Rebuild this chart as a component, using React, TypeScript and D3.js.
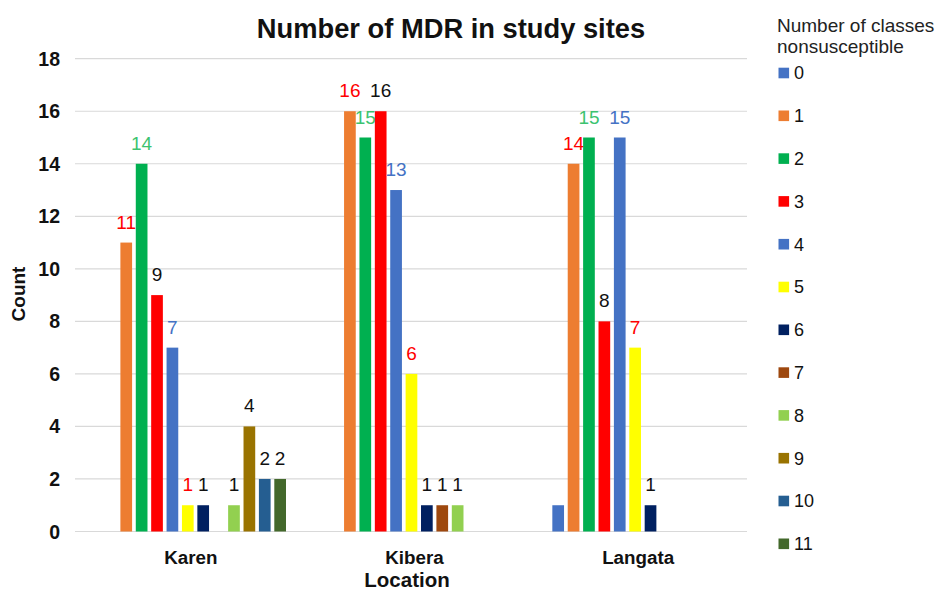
import React from "react";
import * as d3 from "d3";

const categories = ["Karen", "Kibera", "Langata"];
const seriesNames = ["0", "1", "2", "3", "4", "5", "6", "7", "8", "9", "10", "11"];
const karenValues = [null, 11, 14, 9, 7, 1, 1, null, 1, 4, 2, 2];
const kiberaValues = [null, 16, 15, 16, 13, 6, 1, 1, 1, null, null, null];
const langataValues = [1, 14, 15, 8, 15, 7, 1, null, null, null, null, null];
const seriesColors = [
  "#4472C4", "#ED7D31", "#00B050", "#FF0000", "#4472C4", "#FFFF00",
  "#002060", "#9E480E", "#92D050", "#997300", "#255E91", "#43682B",
];
const labelColors = [
  "none", "#FF0000", "#3CC36F", "#111111", "#4472C4", "#FF0000",
  "#111111", "#111111", "#111111", "#111111", "#111111", "#111111",
];
const yTicks = [0, 2, 4, 6, 8, 10, 12, 14, 16, 18];

const W = 937;
const H = 592;
const FONT = "'Liberation Sans', Arial, Helvetica, sans-serif";

export default function App() {
  const valuesByCat = [karenValues, kiberaValues, langataValues];
  const y = d3.scaleLinear().domain([0, 18]).range([531.5, 58.7]);
  const x0 = d3.scaleBand<string>().domain(categories).range([79, 750]);
  const x1 = d3
    .scaleBand<string>()
    .domain(seriesNames)
    .range([26, 207])
    .paddingInner(0.24)
    .paddingOuter(0);
  const gridX1 = 75;
  const gridX2 = 747;

  return (
    <svg
      width={W}
      height={H}
      style={{ position: "absolute", left: 0, top: 0, background: "#fff" }}
      fontFamily={FONT}
    >
      <rect x={0} y={0} width={W} height={H} fill="#fff" />
      <text x={451} y={38} textAnchor="middle" fontSize={27.3} fontWeight="bold" fill="#111">
        Number of MDR in study sites
      </text>
      {yTicks.map((t) => (
        <g key={t}>
          <line x1={gridX1} x2={gridX2} y1={y(t)} y2={y(t)} stroke="#d9d9d9" strokeWidth={1.2} />
          <text x={60} y={y(t)} dy="0.36em" textAnchor="end" fontSize={19.5} fontWeight="bold" fill="#111">
            {t}
          </text>
        </g>
      ))}
      {categories.map((c, ci) => (
        <g key={c} transform={`translate(${x0(c)},0)`}>
          {valuesByCat[ci].map((v, si) =>
            v == null ? null : (
              <g key={si}>
                <rect
                  x={x1(seriesNames[si])}
                  y={y(v)}
                  width={x1.bandwidth()}
                  height={y(0) - y(v)}
                  fill={seriesColors[si]}
                />
                {labelColors[si] !== "none" && (
                  <text
                    x={(x1(seriesNames[si]) as number) + x1.bandwidth() / 2}
                    y={y(v) - 14}
                    textAnchor="middle"
                    fontSize={19}
                    fill={labelColors[si]}
                  >
                    {v}
                  </text>
                )}
              </g>
            )
          )}
          <text
            x={x0.bandwidth() / 2}
            y={563.5}
            textAnchor="middle"
            fontSize={18.8}
            fontWeight="bold"
            fill="#111"
          >
            {c}
          </text>
        </g>
      ))}
      <text x={407} y={586.5} textAnchor="middle" fontSize={20.5} fontWeight="bold" fill="#111">
        Location
      </text>
      <text
        transform={`translate(25,294) rotate(-90)`}
        textAnchor="middle"
        fontSize={19}
        fontWeight="bold"
        fill="#111"
      >
        Count
      </text>
      <text x={777} y={32} fontSize={19} fill="#222">
        Number of classes
      </text>
      <text x={777} y={53} fontSize={19} fill="#222">
        nonsusceptible
      </text>
      {seriesNames.map((s, i) => {
        const cy = 73 + i * 42.8;
        return (
          <g key={s}>
            <rect x={778.5} y={cy - 5.3} width={10.6} height={10.6} fill={seriesColors[i]} />
            <text x={794} y={cy} dy="0.36em" fontSize={18} fill="#111">
              {s}
            </text>
          </g>
        );
      })}
    </svg>
  );
}
